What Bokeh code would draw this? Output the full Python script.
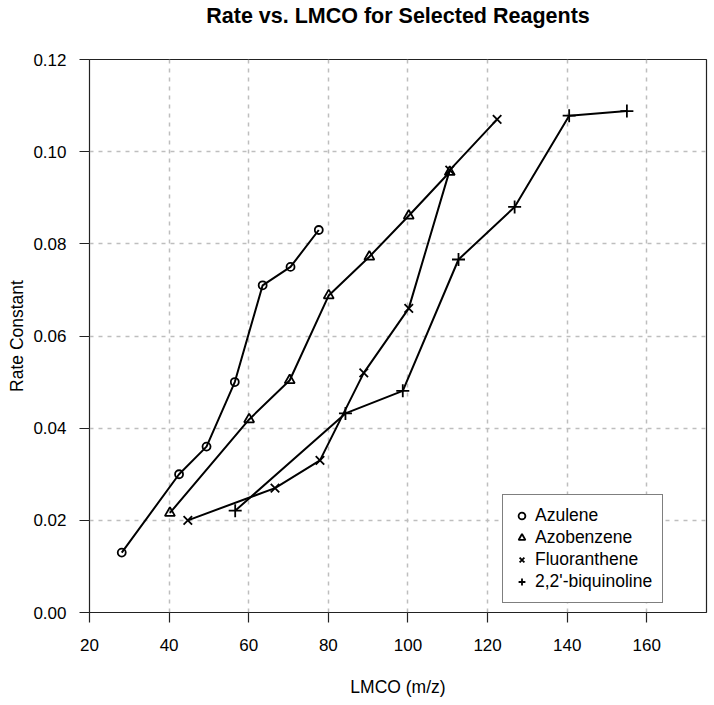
from bokeh.plotting import figure
from bokeh.models import Range1d, FixedTicker, Legend, LegendItem, PrintfTickFormatter, Title
from bokeh.embed import file_html
from bokeh.resources import INLINE

# ---- data ----
title_text = "Rate vs. LMCO for Selected Reagents"
series_names = ["Azulene", "Azobenzene", "Fluoranthene", "2,2'-biquinoline"]
series_markers = ["circle", "triangle", "x", "cross"]

azulene_x = [28.1, 42.5, 49.4, 56.5, 63.5, 70.5, 77.6]
azulene_y = [0.013, 0.030, 0.036, 0.050, 0.071, 0.075, 0.083]

azobenzene_x = [40.2, 60.1, 70.3, 80.1, 90.3, 100.2, 110.5]
azobenzene_y = [0.0216, 0.0419, 0.0504, 0.0688, 0.0772, 0.0861, 0.0956]

fluoranthene_x = [44.7, 66.6, 77.9, 88.9, 100.2, 110.5, 122.4]
fluoranthene_y = [0.020, 0.027, 0.033, 0.052, 0.066, 0.096, 0.107]

biquinoline_x = [56.6, 84.3, 98.7, 112.7, 126.8, 140.5, 155.0]
biquinoline_y = [0.0221, 0.0432, 0.0481, 0.0766, 0.0880, 0.1078, 0.1088]

x_ticks = [20, 40, 60, 80, 100, 120, 140, 160]
y_ticks = [0.00, 0.02, 0.04, 0.06, 0.08, 0.10, 0.12]
x_limits = (20, 175)
y_limits = (0.0, 0.12)

FONT = "Liberation Sans"

p = figure(width=714, height=705, output_backend="svg", toolbar_location=None,
           title=None,
           x_range=Range1d(*x_limits), y_range=Range1d(*y_limits),
           min_border_left=89, min_border_right=8, min_border_top=59, min_border_bottom=93,
           background_fill_color="white", border_fill_color="white")

# spacer between the title and the plot frame (inner), then the real title (outer)
spacer = Title(text=" ", text_font_size="1px", standoff=24)
p.add_layout(spacer, "above")
main_title = Title(text=title_text, align="center", vertical_align="top",
                   text_font=FONT, text_font_size="21.5px", text_font_style="bold",
                   text_color="black", standoff=6)
p.add_layout(main_title, "above")

p.outline_line_color = "#222222"
p.outline_line_width = 1.2
p.outline_line_alpha = 1.0

for ax, ticks in ((p.xaxis[0], x_ticks), (p.yaxis[0], y_ticks)):
    ax.ticker = FixedTicker(ticks=ticks)
    ax.axis_line_color = None
    ax.major_tick_out = 10
    ax.major_tick_in = 0
    ax.major_tick_line_color = "#222222"
    ax.major_tick_line_width = 1.2
    ax.minor_tick_line_color = None
    ax.major_label_text_font = FONT
    ax.major_label_text_font_size = "17px"
    ax.major_label_text_color = "black"
    ax.axis_label_text_font = FONT
    ax.axis_label_text_font_size = "17.5px"
    ax.axis_label_text_font_style = "normal"
    ax.axis_label_text_color = "black"

p.yaxis[0].formatter = PrintfTickFormatter(format="%.2f")
p.xaxis[0].axis_label = "LMCO (m/z)"
p.yaxis[0].axis_label = "Rate Constant"
p.xaxis[0].major_label_standoff = 16
p.xaxis[0].axis_label_standoff = 23
p.yaxis[0].major_label_standoff = 13
p.yaxis[0].axis_label_standoff = 3

p.xgrid.ticker = FixedTicker(ticks=x_ticks)
p.ygrid.ticker = FixedTicker(ticks=y_ticks)
for g in (p.xgrid[0], p.ygrid[0]):
    g.grid_line_color = "#BEBEBE"
    g.grid_line_width = 1.5
    g.grid_line_dash = "4 5"

series = [
    (azulene_x, azulene_y),
    (azobenzene_x, azobenzene_y),
    (fluoranthene_x, fluoranthene_y),
    (biquinoline_x, biquinoline_y),
]
marker_sizes = {"circle": 8, "triangle": 10, "x": 12, "cross": 13}

items = []
for (xs, ys), name, mk in zip(series, series_names, series_markers):
    p.line(xs, ys, line_color="black", line_width=2)
    r = p.scatter(xs, ys, marker=mk, size=marker_sizes[mk], fill_color=None,
                  line_color="black", line_width=1.8)
    items.append(LegendItem(label=name, renderers=[r]))

legend = Legend(items=items, location=(413, 9))
legend.label_text_font = FONT
legend.label_text_font_size = "17.5px"
legend.label_text_color = "black"
legend.border_line_color = "black"
legend.border_line_width = 1
legend.background_fill_color = "white"
legend.background_fill_alpha = 1.0
legend.padding = 10
legend.spacing = 1
legend.glyph_width = 17
legend.glyph_height = 21
legend.label_height = 21
legend.label_standoff = 5
legend.margin = 0
p.add_layout(legend, "center")

open("out.html", "w").write(file_html(p, INLINE))
